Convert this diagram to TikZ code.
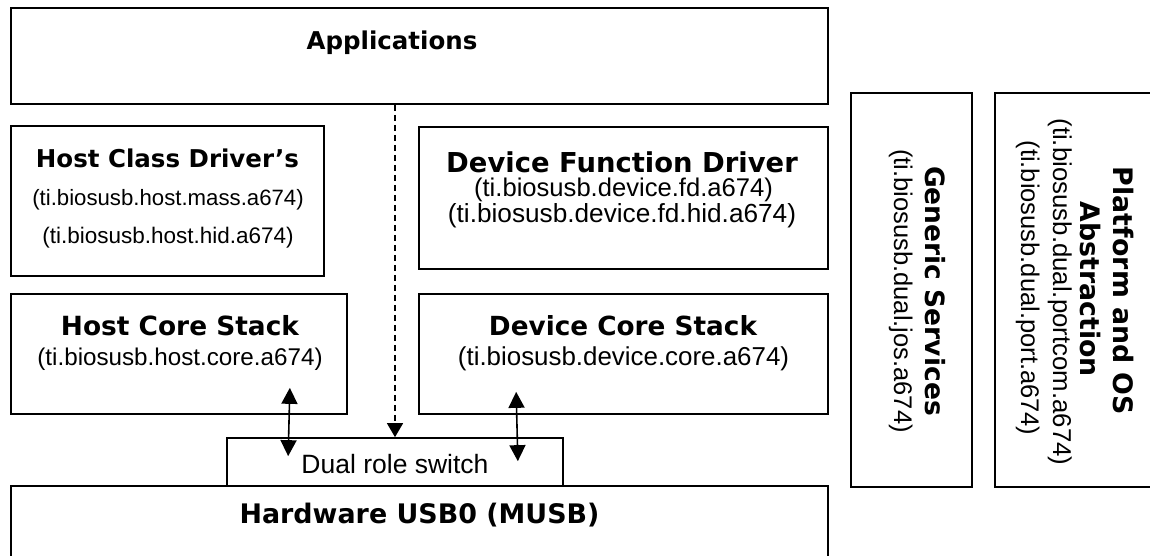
\documentclass[tikz,border=0pt]{standalone}
\usepackage{fontspec}
\setmainfont{Liberation Sans}
\newfontfamily\vfont{DejaVu Sans}
\usetikzlibrary{calc,arrows.meta}
\newcommand{\ttlfont}[1]{\vfont\bfseries\fontsize{#1}{#1}\selectfont}
\newcommand{\subfont}[1]{\fontsize{#1}{#1}\selectfont}
\tikzset{
  layer/.style={draw, rectangle, line width=1.7pt, inner sep=0pt},
  ttl/.style={font=\ttlfont{#1}, anchor=base, inner sep=0pt},
  ttl/.default=24.5,
  sub/.style={font=\subfont{#1}, anchor=base, inner sep=0pt},
  sub/.default=22,
  link/.style={line width=1.6pt, {Triangle[width=16pt,length=16pt]}-{Triangle[width=16pt,length=16pt]}}
}

\begin{document}
\begin{tikzpicture}[x=1pt, y=-1pt, line cap=butt, line join=miter]
    \useasboundingbox (0,0) rectangle (1150,555);
    \clip (0,0) rectangle (1150,555);

    % LAYER BOXES
    \node[layer, minimum width=817, minimum height=96]  (app) at (419.5,56)  {};
    \node[layer, minimum width=313, minimum height=150] (hcd) at (167.5,201) {};
    \node[layer, minimum width=409, minimum height=142] (dfd) at (623.5,198) {};
    \node[layer, minimum width=336, minimum height=120] (hcs) at (179,354)   {};
    \node[layer, minimum width=409, minimum height=120] (dcs) at (623.5,354) {};
    \node[layer, minimum width=336, minimum height=48]  (drs) at (395,462)   {};
    \node[layer, minimum width=817, minimum height=89]  (hw)  at (419.5,530.5) {};
    \node[layer, minimum width=121, minimum height=394] (gs)  at (911.5,290) {};
    \node[layer, minimum width=175, minimum height=394] (poa) at (1082.5,290) {};

    % TEXTS
    \node[ttl] (appT) at (392,49)    {Applications};
    \node[ttl] (hcdT) at (167.5,167) {Host Class Driver’s};
    \node[sub=22.2] (hcdA) at (168,205) {(ti.biosusb.host.mass.a674)};
    \node[sub=22.5] (hcdB) at (168,243) {(ti.biosusb.host.hid.a674)};
    \node[ttl=27.4] (dfdT) at (622,172) {Device Function Driver};
    \node[sub=25.6] (dfdA) at (623.5,196.5) {(ti.biosusb.device.fd.a674)};
    \node[sub=26.2] (dfdB) at (622,222) {(ti.biosusb.device.fd.hid.a674)};
    \node[ttl=26.4] (hcsT) at (180,335)   {Host Core Stack};
    \node[sub=24.2] (hcsA) at (180,365)   {(ti.biosusb.host.core.a674)};
    \node[ttl=26.3] (dcsT) at (623,335) {Device Core Stack};
    \node[sub=25.9] (dcsA) at (623.5,365) {(ti.biosusb.device.core.a674)};
    \node[sub=26.5] (drsT) at (395,473) {Dual role switch};
    \node[ttl=26.9] (hwT)  at (419.5,523) {Hardware USB0 (MUSB)};
    % vertical ones
    \node[ttl=26.5, rotate=-90] (gsT)  at (925.5,291)  {Generic Services};
    \node[sub=25.5, rotate=-90] (gsA)  at (894,291)  {(ti.biosusb.dual.jos.a674)};
    \node[ttl=26.8, rotate=-90] (poaT) at (1113.5,291) {Platform and OS};
    \node[ttl=26.8, rotate=-90] (poaU) at (1080.5,289) {Abstraction};
    \node[sub=25.8, rotate=-90] (poaA) at (1053,292) {(ti.biosusb.dual.portcom.a674)};
    \node[sub=25.5, rotate=-90] (poaB) at (1021,288) {(ti.biosusb.dual.port.a674)};

    % CONNECTORS
    \draw[line width=1.4pt, dash pattern=on 6pt off 4pt, -{Triangle[width=16pt,length=14pt]}]
        (drs.north |- app.south) -- (drs.north);
    \draw[link] ($(hcs.south east)+(-58,-27)$) -- ($(drs.north west)+(62,19)$);
    \draw[link] ($(dcs.south west)+(98,-23)$) -- ($(drs.north east)+(-46,24)$);
\end{tikzpicture}
\end{document}
